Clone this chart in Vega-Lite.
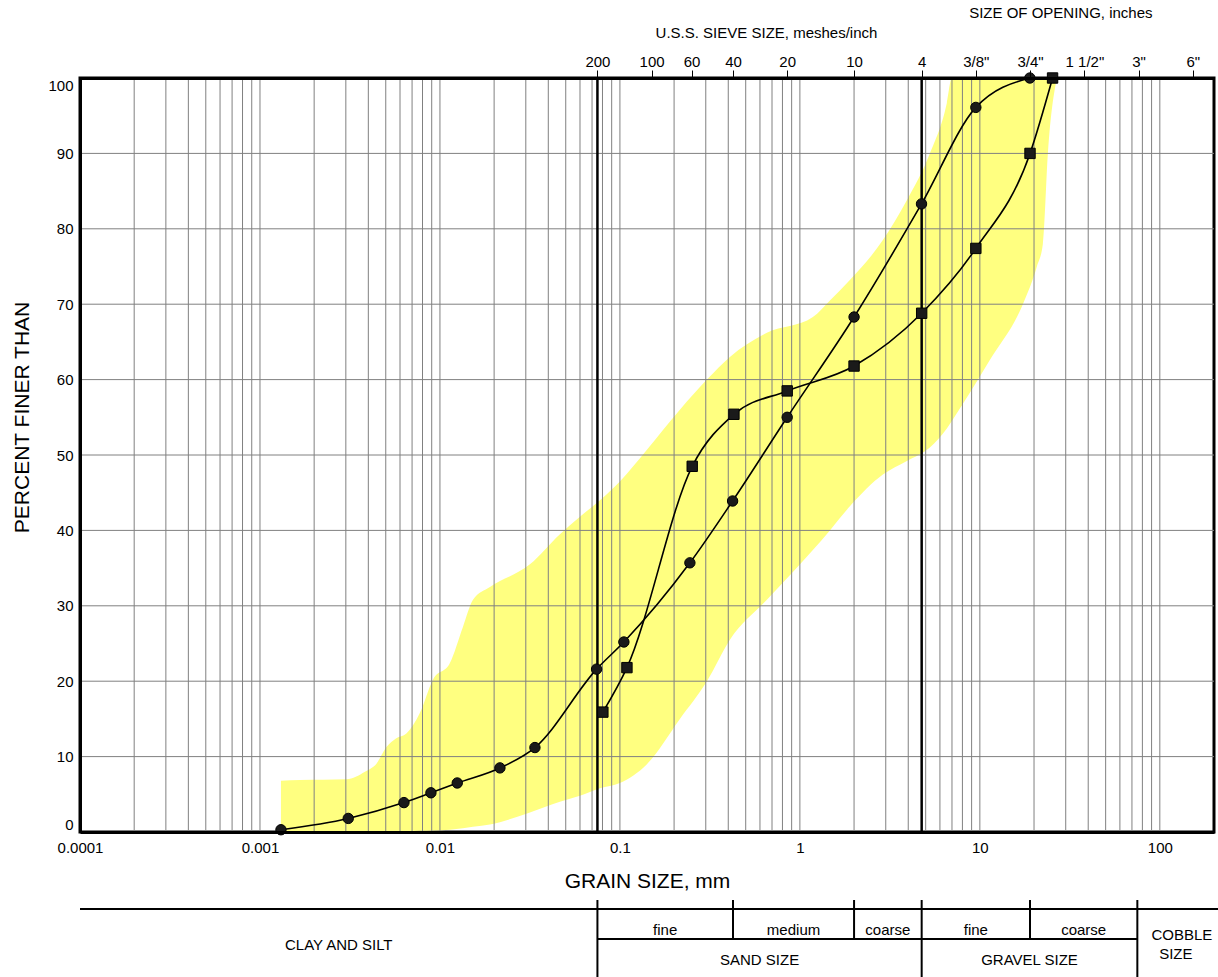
{
  "$schema": "https://vega.github.io/schema/vega-lite/v6.json",
  "width": 1134,
  "height": 754,
  "autosize": {"type": "none"},
  "padding": {"left": 80, "top": 78, "right": 4, "bottom": 145},
  "background": "white",
  "config": {
    "font": "Liberation Sans",
    "view": {"stroke": "black", "strokeWidth": 3},
    "axis": {"labelFont": "Liberation Sans", "titleFont": "Liberation Sans", "labelColor": "black", "titleColor": "black"},
    "text": {"font": "Liberation Sans"}
  },
  "datasets": {
    "band": [
      {"size": 0.001308, "lo": 0, "hi": 6.8},
      {"size": 0.001668, "lo": 0, "hi": 6.9},
      {"size": 0.003032, "lo": 0, "hi": 7.0},
      {"size": 0.003831, "lo": 0, "hi": 8.0},
      {"size": 0.004449, "lo": 0, "hi": 9.1},
      {"size": 0.005057, "lo": 0, "hi": 11.3},
      {"size": 0.005695, "lo": 0.05, "hi": 12.4},
      {"size": 0.006531, "lo": 0.1, "hi": 13.1},
      {"size": 0.007743, "lo": 0.15, "hi": 15.8},
      {"size": 0.009146, "lo": 0.2, "hi": 20.2},
      {"size": 0.01136, "lo": 0.3, "hi": 22.4},
      {"size": 0.01342, "lo": 0.5, "hi": 27.2},
      {"size": 0.01526, "lo": 0.7, "hi": 30.8},
      {"size": 0.01896, "lo": 1.0, "hi": 32.5},
      {"size": 0.03162, "lo": 2.6, "hi": 35.5},
      {"size": 0.04642, "lo": 4.0, "hi": 39.5},
      {"size": 0.05995, "lo": 4.8, "hi": 41.8},
      {"size": 0.07743, "lo": 5.8, "hi": 44.0},
      {"size": 0.1, "lo": 6.5, "hi": 46.5},
      {"size": 0.1413, "lo": 9.0, "hi": 50.7},
      {"size": 0.2154, "lo": 15, "hi": 56},
      {"size": 0.3044, "lo": 20, "hi": 60},
      {"size": 0.4084, "lo": 25.5, "hi": 63},
      {"size": 0.6556, "lo": 30.8, "hi": 66.2},
      {"size": 1.181, "lo": 37.4, "hi": 68.3},
      {"size": 1.468, "lo": 40, "hi": 70.5},
      {"size": 1.896, "lo": 43.2, "hi": 73.2},
      {"size": 2.892, "lo": 47.4, "hi": 78.5},
      {"size": 3.93, "lo": 49.2, "hi": 83.8},
      {"size": 5.275, "lo": 51, "hi": 90},
      {"size": 6.556, "lo": 53.5, "hi": 96.7},
      {"size": 6.99, "lo": 54.5, "hi": 100},
      {"size": 11.36, "lo": 62.6, "hi": 100},
      {"size": 17.34, "lo": 70, "hi": 100},
      {"size": 20.74, "lo": 75, "hi": 100},
      {"size": 22.39, "lo": 78, "hi": 100},
      {"size": 23.87, "lo": 90, "hi": 100},
      {"size": 26.78, "lo": 100, "hi": 100}
    ],
    "gridx": [
      {"size": 0.0002}, {"size": 0.0003}, {"size": 0.0004}, {"size": 0.0005}, {"size": 0.0006}, {"size": 0.0007}, {"size": 0.0008}, {"size": 0.0009},
      {"size": 0.001}, {"size": 0.002}, {"size": 0.003}, {"size": 0.004}, {"size": 0.005}, {"size": 0.006}, {"size": 0.007}, {"size": 0.008}, {"size": 0.009},
      {"size": 0.01}, {"size": 0.02}, {"size": 0.03}, {"size": 0.04}, {"size": 0.05}, {"size": 0.06}, {"size": 0.07}, {"size": 0.08}, {"size": 0.09},
      {"size": 0.1}, {"size": 0.2}, {"size": 0.3}, {"size": 0.4}, {"size": 0.5}, {"size": 0.6}, {"size": 0.7}, {"size": 0.8}, {"size": 0.9},
      {"size": 1}, {"size": 2}, {"size": 3}, {"size": 4}, {"size": 5}, {"size": 6}, {"size": 7}, {"size": 8}, {"size": 9},
      {"size": 10}, {"size": 20}, {"size": 30}, {"size": 40}, {"size": 50}, {"size": 60}, {"size": 70}, {"size": 80}, {"size": 90},
      {"size": 100}
    ],
    "gridy": [
      {"pct": 10}, {"pct": 20}, {"pct": 30}, {"pct": 40}, {"pct": 50}, {"pct": 60}, {"pct": 70}, {"pct": 80}, {"pct": 90}
    ],
    "sieves": [
      {"size": 0.075}, {"size": 4.75}
    ],
    "curves": [
      {"series": "A", "size": 0.001308, "pct": 0.3},
      {"series": "A", "size": 0.003094, "pct": 1.8},
      {"series": "A", "size": 0.00631, "pct": 3.9},
      {"series": "A", "size": 0.00891, "pct": 5.2},
      {"series": "A", "size": 0.01248, "pct": 6.5},
      {"series": "A", "size": 0.02154, "pct": 8.5},
      {"series": "A", "size": 0.03371, "pct": 11.2},
      {"series": "A", "size": 0.0742, "pct": 21.6},
      {"series": "A", "size": 0.1052, "pct": 25.2},
      {"series": "A", "size": 0.2448, "pct": 35.7},
      {"series": "A", "size": 0.4228, "pct": 43.9},
      {"series": "A", "size": 0.85, "pct": 55.0},
      {"series": "A", "size": 2.0, "pct": 68.3},
      {"series": "A", "size": 4.74, "pct": 83.3},
      {"series": "A", "size": 9.5, "pct": 96.1},
      {"series": "A", "size": 18.96, "pct": 100},
      {"series": "B", "size": 0.0804, "pct": 15.9},
      {"series": "B", "size": 0.1094, "pct": 21.8},
      {"series": "B", "size": 0.2522, "pct": 48.5},
      {"series": "B", "size": 0.43, "pct": 55.4},
      {"series": "B", "size": 0.85, "pct": 58.5},
      {"series": "B", "size": 2.0, "pct": 61.8},
      {"series": "B", "size": 4.75, "pct": 68.8},
      {"series": "B", "size": 9.5, "pct": 77.4},
      {"series": "B", "size": 19, "pct": 90},
      {"series": "B", "size": 25.35, "pct": 100}
    ],
    "dividers": [
      {"size": 0.075, "pct": -9.02, "pct2": -19.3},
      {"size": 0.425, "pct": -9.02, "pct2": -14.19},
      {"size": 2, "pct": -9.02, "pct2": -14.19},
      {"size": 4.75, "pct": -9.02, "pct2": -19.3},
      {"size": 19, "pct": -9.02, "pct2": -14.19},
      {"size": 75, "pct": -9.02, "pct2": -19.3}
    ],
    "hlines": [
      {"size": 0.0001, "size2": 212, "pct": -10.21},
      {"size": 0.075, "size2": 75, "pct": -14.19}
    ],
    "tabletext": [
      {"label": "CLAY AND SILT", "size": 0.00274, "pct": -14.99},
      {"label": "fine", "size": 0.1785, "pct": -13.0},
      {"label": "medium", "size": 0.922, "pct": -13.0},
      {"label": "coarse", "size": 3.08, "pct": -13.0},
      {"label": "fine", "size": 9.5, "pct": -13.0},
      {"label": "coarse", "size": 37.75, "pct": -13.0},
      {"label": "SAND SIZE", "size": 0.597, "pct": -16.98},
      {"label": "GRAVEL SIZE", "size": 18.87, "pct": -16.98},
      {"label": "COBBLE", "size": 132.5, "pct": -13.62},
      {"label": "SIZE", "size": 122.7, "pct": -16.18}
    ],
    "toptext": [
      {"label": "U.S.S. SIEVE SIZE, meshes/inch", "size": 0.6522, "pct": 105.27},
      {"label": "SIZE OF OPENING, inches", "size": 28.18, "pct": 107.92}
    ]
  },
  "resolve": {"axis": {"x": "independent"}},
  "layer": [
    {
      "data": {"name": "band"},
      "mark": {"type": "area", "interpolate": "monotone", "color": "#ffff80", "opacity": 1},
      "encoding": {
        "x": {
          "field": "size", "type": "quantitative",
          "scale": {"type": "log", "domain": [0.0001, 200]},
          "axis": {
            "orient": "bottom",
            "values": [0.0001, 0.001, 0.01, 0.1, 1, 10, 100],
            "format": "~g",
            "grid": false, "ticks": false, "tickSize": 0,
            "domain": true, "domainColor": "black", "domainWidth": 3,
            "labelFontSize": 15, "labelPadding": 8.5, "labelFlush": false, "labelOverlap": false,
            "title": "GRAIN SIZE, mm", "titleFontSize": 21, "titleFontWeight": "normal",
            "titleY": 55.5, "titleBaseline": "alphabetic",
            "zindex": 1
          }
        },
        "y": {
          "field": "lo", "type": "quantitative",
          "scale": {"domain": [0, 100]},
          "axis": {
            "orient": "left",
            "values": [0, 10, 20, 30, 40, 50, 60, 70, 80, 90, 100],
            "grid": false, "ticks": false, "tickSize": 0,
            "domain": true, "domainColor": "black", "domainWidth": 3,
            "labelFontSize": 15, "labelPadding": 7, "labelFlush": true,
            "title": "PERCENT FINER THAN", "titleFontSize": 21, "titleFontWeight": "normal",
            "titleX": -51.5, "titleY": 339, "titleBaseline": "alphabetic",
            "zindex": 1
          }
        },
        "y2": {"field": "hi"}
      }
    },
    {
      "data": {"name": "gridx"},
      "mark": {"type": "rule", "color": "#808080", "strokeWidth": 1},
      "encoding": {
        "x": {"field": "size", "type": "quantitative", "scale": {"type": "log", "domain": [0.0001, 200]}, "axis": null}
      }
    },
    {
      "data": {"name": "gridy"},
      "mark": {"type": "rule", "color": "#808080", "strokeWidth": 1},
      "encoding": {
        "y": {"field": "pct", "type": "quantitative", "scale": {"domain": [0, 100]}}
      }
    },
    {
      "data": {"name": "sieves"},
      "mark": {"type": "rule", "color": "black", "strokeWidth": 2.5},
      "encoding": {
        "x": {
          "field": "size", "type": "quantitative",
          "scale": {"type": "log", "domain": [0.0001, 200]},
          "axis": {
            "orient": "top",
            "values": [0.075, 0.15, 0.25, 0.425, 0.85, 2, 4.75, 9.5, 19, 38.1, 76.2, 152.4],
            "labelExpr": "datum.value == 0.075 ? '200' : datum.value == 0.15 ? '100' : datum.value == 0.25 ? '60' : datum.value == 0.425 ? '40' : datum.value == 0.85 ? '20' : datum.value == 2 ? '10' : datum.value == 4.75 ? '4' : datum.value == 9.5 ? '3/8\"' : datum.value == 19 ? '3/4\"' : datum.value == 38.1 ? '1 1/2\"' : datum.value == 76.2 ? '3\"' : '6\"'",
            "grid": false, "ticks": true, "tickSize": 8, "tickColor": "black", "tickWidth": 1,
            "domain": true, "domainColor": "black", "domainWidth": 3,
            "labelFontSize": 15, "labelPadding": 0.5, "labelFlush": false, "labelOverlap": false,
            "title": null,
            "zindex": 1
          }
        }
      }
    },
    {
      "data": {"name": "curves"},
      "mark": {"type": "line", "interpolate": "monotone", "color": "black", "strokeWidth": 1.6},
      "encoding": {
        "x": {"field": "size", "type": "quantitative", "scale": {"type": "log", "domain": [0.0001, 200]}, "axis": null},
        "y": {"field": "pct", "type": "quantitative", "scale": {"domain": [0, 100]}},
        "detail": {"field": "series", "type": "nominal"}
      }
    },
    {
      "data": {"name": "curves"},
      "mark": {"type": "point", "filled": true, "fill": "#1a1a1a", "stroke": "black", "strokeWidth": 1, "size": 108, "opacity": 1},
      "encoding": {
        "x": {"field": "size", "type": "quantitative", "scale": {"type": "log", "domain": [0.0001, 200]}, "axis": null},
        "y": {"field": "pct", "type": "quantitative", "scale": {"domain": [0, 100]}},
        "shape": {"field": "series", "type": "nominal", "scale": {"domain": ["A", "B"], "range": ["circle", "square"]}, "legend": null}
      }
    },
    {
      "data": {"name": "dividers"},
      "mark": {"type": "rule", "color": "black", "strokeWidth": 2},
      "encoding": {
        "x": {"field": "size", "type": "quantitative", "scale": {"type": "log", "domain": [0.0001, 200]}, "axis": null},
        "y": {"field": "pct", "type": "quantitative", "scale": {"domain": [0, 100]}},
        "y2": {"field": "pct2"}
      }
    },
    {
      "data": {"name": "hlines"},
      "mark": {"type": "rule", "color": "black", "strokeWidth": 2},
      "encoding": {
        "x": {"field": "size", "type": "quantitative", "scale": {"type": "log", "domain": [0.0001, 200]}, "axis": null},
        "x2": {"field": "size2"},
        "y": {"field": "pct", "type": "quantitative", "scale": {"domain": [0, 100]}}
      }
    },
    {
      "data": {"name": "tabletext"},
      "mark": {"type": "text", "fontSize": 15, "color": "black", "align": "center", "baseline": "middle"},
      "encoding": {
        "x": {"field": "size", "type": "quantitative", "scale": {"type": "log", "domain": [0.0001, 200]}, "axis": null},
        "y": {"field": "pct", "type": "quantitative", "scale": {"domain": [0, 100]}},
        "text": {"field": "label", "type": "nominal"}
      }
    },
    {
      "data": {"name": "toptext"},
      "mark": {"type": "text", "fontSize": 15, "color": "black", "align": "center", "baseline": "alphabetic"},
      "encoding": {
        "x": {"field": "size", "type": "quantitative", "scale": {"type": "log", "domain": [0.0001, 200]}, "axis": null},
        "y": {"field": "pct", "type": "quantitative", "scale": {"domain": [0, 100]}},
        "text": {"field": "label", "type": "nominal"}
      }
    }
  ]
}
